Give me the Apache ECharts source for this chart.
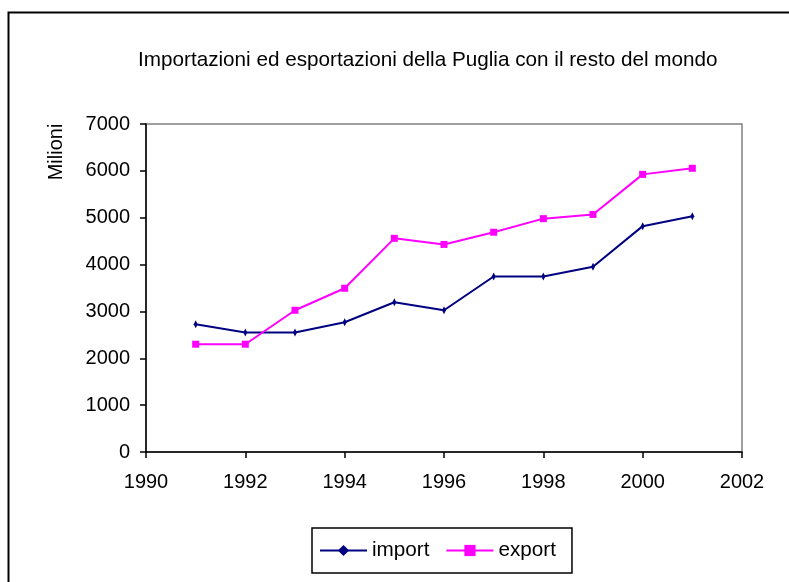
<!DOCTYPE html>
<html>
<head>
<meta charset="utf-8">
<script src="https://cdn.jsdelivr.net/npm/echarts@6/dist/echarts.min.js"></script>
<style>html,body{margin:0;padding:0;background:#fff;}#c{width:789px;height:582px;}</style>
</head>
<body>
<div id="c"></div>
<script>
const years = [1991, 1992, 1993, 1994, 1995, 1996, 1997, 1998, 1999, 2000, 2001];
const importValues = [2725, 2550, 2550, 2770, 3195, 3025, 3745, 3745, 3955, 4820, 5030];
const exportValues = [2300, 2300, 3025, 3495, 4560, 4430, 4690, 4980, 5070, 5925, 6055];
const titleText = 'Importazioni ed esportazioni della Puglia con il resto del mondo';
const yName = 'Milioni';
const FONT = '"Liberation Sans", Arial, sans-serif';

const chart = echarts.init(document.getElementById('c'), null, {renderer: 'canvas'});
chart.setOption({
  animation: false,
  backgroundColor: '#fff',
  title: {
    text: titleText, left: 133, top: 45,
    textStyle: {fontFamily: FONT, fontSize: 20.7, fontWeight: 'normal', color: '#000'}
  },
  graphic: [
    {type: 'rect', left: 6, top: 10, shape: {width: 800, height: 600}, style: {fill: 'none', stroke: '#000', lineWidth: 2}, silent: true},
    {type: 'text', x: 56, y: 152, rotation: Math.PI / 2,
     style: {text: yName, font: '20px ' + FONT, fill: '#000', align: 'center', verticalAlign: 'middle'}}
  ],
  legend: {
    left: 312, top: 528, padding: [12, 16, 12, 7],
    borderColor: '#000', borderWidth: 1.5,
    itemWidth: 47, itemHeight: 14, itemGap: 16,
    textStyle: {fontFamily: FONT, fontSize: 20.7, color: '#000'},
    data: ['import', 'export']
  },
  grid: {left: 146, top: 124, right: 47, bottom: 130, show: true, borderColor: '#808080', borderWidth: 1.5},
  xAxis: {
    type: 'value', min: 1990, max: 2002, interval: 2,
    axisLine: {lineStyle: {color: '#000', width: 1.5}},
    axisTick: {show: true, inside: false, length: 6, lineStyle: {color: '#000', width: 1.5}},
    axisLabel: {fontFamily: FONT, fontSize: 20, color: '#000', margin: 20, formatter: v => String(v)},
    splitLine: {show: false}
  },
  yAxis: {
    type: 'value', min: 0, max: 7000, interval: 1000,
    axisLine: {show: true, lineStyle: {color: '#000', width: 1.5}},
    axisTick: {show: true, inside: false, length: 6, lineStyle: {color: '#000', width: 1.5}},
    axisLabel: {fontFamily: FONT, fontSize: 20, color: '#000', margin: 16, formatter: v => String(v)},
    splitLine: {show: false}
  },
  series: [
    {
      name: 'import', type: 'line',
      data: years.map((y, i) => [y, importValues[i]]),
      color: '#000080',
      lineStyle: {color: '#000080', width: 2},
      symbol: 'diamond', symbolSize: [4, 8], showAllSymbol: true,
      itemStyle: {color: '#000080'}
    },
    {
      name: 'export', type: 'line',
      data: years.map((y, i) => [y, exportValues[i]]),
      color: '#FF00FF',
      lineStyle: {color: '#FF00FF', width: 2},
      symbol: 'rect', symbolSize: 7, showAllSymbol: true,
      itemStyle: {color: '#FF00FF'}
    }
  ]
});
</script>
</body>
</html>
